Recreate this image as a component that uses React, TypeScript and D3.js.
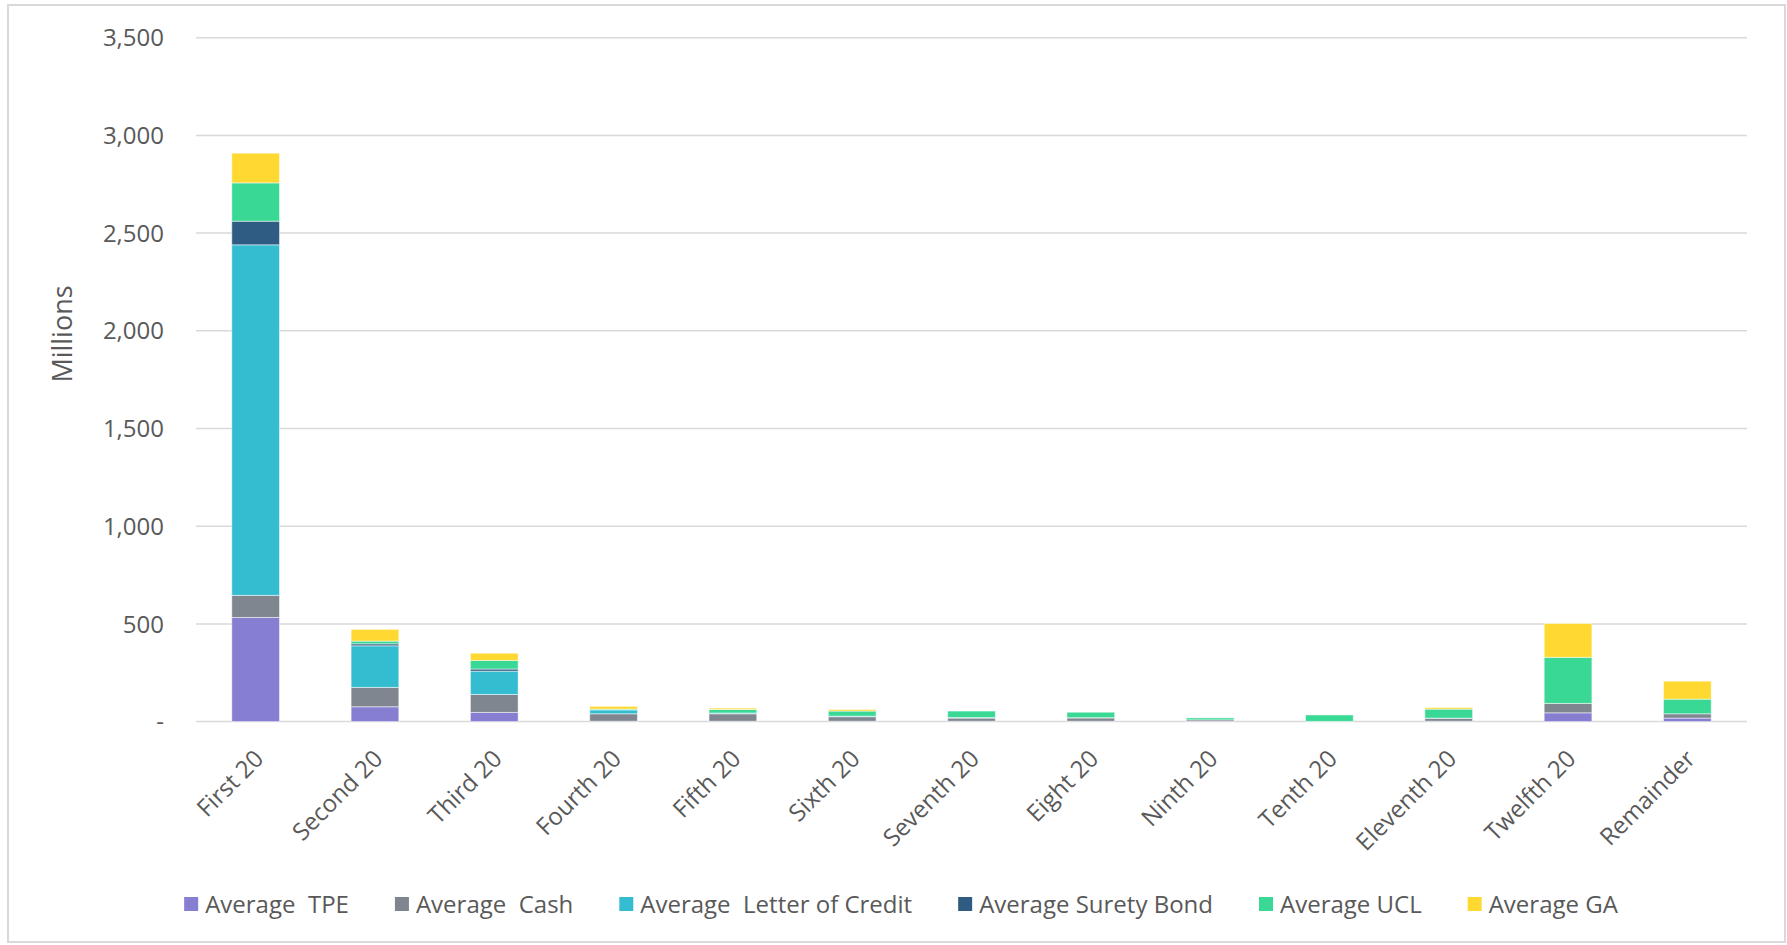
import React, { useEffect, useRef } from "react";
import * as d3 from "d3";

const categories = ["First 20", "Second 20", "Third 20", "Fourth 20", "Fifth 20", "Sixth 20", "Seventh 20", "Eight 20", "Ninth 20", "Tenth 20", "Eleventh 20", "Twelfth 20", "Remainder"];
const seriesNames = ["Average  TPE", "Average  Cash", "Average  Letter of Credit", "Average Surety Bond", "Average UCL", "Average GA"];
const seriesKeys = ["tpe", "cash", "loc", "surety", "ucl", "ga"];
const seriesColors = ["#857ED1", "#7F868F", "#34BDD1", "#2F5C82", "#3AD895", "#FFD931"];

const tpe = [533, 76, 47, 2, 2, 2, 2, 2, 1, 0, 2, 45, 18];
const cash = [113, 99, 92, 38, 38, 23, 16, 17, 8, 1, 15, 48, 22];
const loc = [1794, 213, 119, 20, 4, 3, 3, 1, 0, 0, 1, 0, 0];
const surety = [121, 10, 11, 0, 0, 0, 0, 0, 0, 0, 0, 0, 0];
const ucl = [196, 14, 44, 4, 18, 26, 33, 28, 10, 33, 46, 236, 75];
const ga = [152, 60, 37, 14, 7, 8, 0, 0, 0, 0, 8, 173, 92];

const yTicks = [0, 500, 1000, 1500, 2000, 2500, 3000, 3500];

const W = 1787;
const H = 945;
const FONT = "'Open Sans', 'Noto Sans', sans-serif";
const TEXT = "#595959";

export default function App() {
  const ref = useRef<SVGSVGElement>(null);

  useEffect(() => {
    const svg = d3.select(ref.current);
    svg.selectAll("*").remove();

    const seriesValues = [tpe, cash, loc, surety, ucl, ga];
    const rows = categories.map((c, i) => {
      const r: any = { cat: c };
      seriesKeys.forEach((k, j) => (r[k] = seriesValues[j][i]));
      return r;
    });

    const x = d3.scaleBand().domain(categories).range([196, 1747]).paddingInner(0.6).paddingOuter(0.3);
    const y = d3.scaleLinear().domain([0, 3500]).range([721.6, 37.7]);

    // outer border
    svg.append("rect").attr("x", 8).attr("y", 5).attr("width", W - 10).attr("height", H - 8)
      .attr("fill", "#fff").attr("stroke", "#d9d9d9").attr("stroke-width", 2);

    // grid
    svg.append("g").selectAll("line").data(yTicks).join("line")
      .attr("x1", 196).attr("x2", 1747)
      .attr("y1", (d) => y(d)).attr("y2", (d) => y(d))
      .attr("stroke", "#d9d9d9").attr("stroke-width", 1.5);

    // y labels
    svg.append("g").selectAll("text").data(yTicks).join("text")
      .attr("x", 164).attr("y", (d) => y(d)).attr("dy", "0.36em")
      .attr("text-anchor", "end").attr("font-family", FONT).attr("font-size", 24).attr("fill", TEXT)
      .text((d) => (d === 0 ? "-" : d3.format(",")(d)));

    svg.append("text").attr("transform", `translate(72,334) rotate(-90)`)
      .attr("text-anchor", "middle").attr("font-family", FONT).attr("font-size", 27).attr("fill", TEXT)
      .text("Millions");

    // bars
    const stack = d3.stack<any>().keys(seriesKeys)(rows);
    const g = svg.append("g");
    stack.forEach((s, si) => {
      g.append("g").attr("fill", seriesColors[si]).selectAll("rect").data(s).join("rect")
        .attr("x", (d: any) => x(d.data.cat)!)
        .attr("width", x.bandwidth())
        .attr("y", (d: any) => y(d[1]))
        .attr("height", (d: any) => Math.max(0, y(d[0]) - y(d[1])))
        .attr("stroke", "#ffffff").attr("stroke-opacity", 0.5).attr("stroke-width", 1)
        .style("display", (d: any) => (d[1] - d[0] > 0 ? null : "none"));
    });

    // x labels
    svg.append("g").selectAll("text").data(categories).join("text")
      .attr("transform", (d) => `translate(${x(d)! + x.bandwidth() / 2 - 3},${748}) rotate(-45)`)
      .attr("text-anchor", "end").attr("dy", "0.72em")
      .attr("font-family", FONT).attr("font-size", 24).attr("fill", TEXT)
      .text((d) => d);

    // legend
    const lg = svg.append("g");
    const items = lg.selectAll("g").data(seriesNames).join("g");
    items.append("rect").attr("x", 0).attr("y", -7).attr("width", 14).attr("height", 14)
      .attr("fill", (_d, i) => seriesColors[i]);
    items.append("text").attr("x", 21).attr("y", 0).attr("dy", "0.36em")
      .attr("font-family", FONT).attr("font-size", 24).attr("fill", TEXT)
      .style("white-space", "pre").attr("xml:space", "preserve")
      .text((d) => d);
    let cx = 0;
    const positions: number[] = [];
    items.each(function () {
      const t = (d3.select(this).select("text").node() as SVGTextElement).getComputedTextLength();
      positions.push(cx);
      cx += 21 + t + 46;
    });
    const total = cx - 46;
    const start = 901 - total / 2;
    items.attr("transform", (_d, i) => `translate(${start + positions[i]},904)`);
  }, []);

  return (
    <svg ref={ref} width={W} height={H} style={{ position: "absolute", left: 0, top: 0, background: "#fff" }} />
  );
}
